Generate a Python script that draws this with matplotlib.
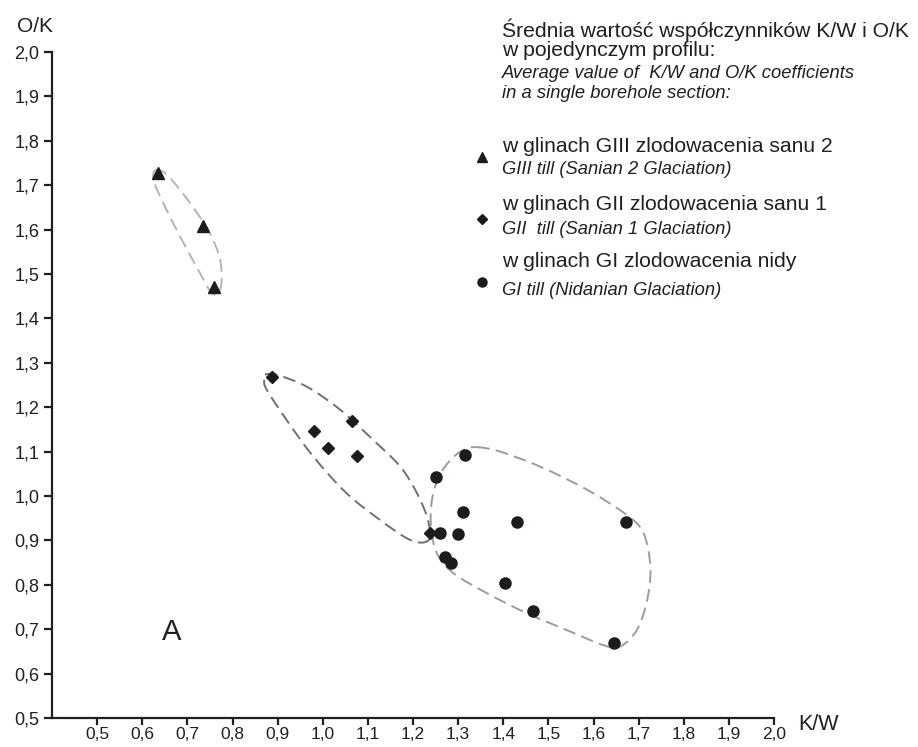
import numpy as np
import matplotlib
matplotlib.use("Agg")
import matplotlib.pyplot as plt
from matplotlib.path import Path
from matplotlib.patches import PathPatch
from matplotlib.lines import Line2D

plt.rcParams['font.family'] = ['Liberation Sans', 'DejaVu Sans']

# ---- data ----
g3_kw = [0.634, 0.734, 0.758]
g3_ok = [1.728, 1.608, 1.470]

g2_kw = [0.887, 1.065, 0.981, 1.011, 1.076, 1.238]
g2_ok = [1.269, 1.169, 1.146, 1.109, 1.089, 0.917]

g1_kw = [1.316, 1.251, 1.310, 1.430, 1.671, 1.260, 1.300, 1.272, 1.285, 1.403, 1.467, 1.645]
g1_ok = [1.093, 1.043, 0.965, 0.941, 0.941, 0.916, 0.914, 0.862, 0.848, 0.804, 0.741, 0.670]

# outlines (envelopes) of groups
hull3_kw = [0.628, 0.651, 0.684, 0.717, 0.750, 0.771, 0.776, 0.771, 0.754, 0.728, 0.684, 0.647, 0.626]
hull3_ok = [1.733, 1.727, 1.689, 1.644, 1.592, 1.539, 1.494, 1.460, 1.457, 1.502, 1.584, 1.659, 1.708]

hull2_kw = [0.872, 0.898, 0.965, 1.039, 1.112, 1.172, 1.209, 1.231, 1.238, 1.220, 1.186, 1.127,
            1.053, 0.979, 0.920, 0.876, 0.870]
hull2_ok = [1.273, 1.273, 1.246, 1.194, 1.126, 1.066, 1.006, 0.953, 0.908, 0.895, 0.905, 0.946,
            1.006, 1.089, 1.171, 1.239, 1.261]

hull1_kw = [1.342, 1.393, 1.482, 1.586, 1.674, 1.711, 1.726, 1.719, 1.696, 1.659, 1.622, 1.541,
            1.452, 1.364, 1.290, 1.253, 1.240, 1.242, 1.257, 1.283, 1.312]
hull1_ok = [1.110, 1.100, 1.066, 1.014, 0.957, 0.916, 0.841, 0.766, 0.698, 0.661, 0.664, 0.698,
            0.736, 0.781, 0.826, 0.871, 0.931, 0.991, 1.043, 1.081, 1.104]

xticks = [0.5, 0.6, 0.7, 0.8, 0.9, 1.0, 1.1, 1.2, 1.3, 1.4, 1.5, 1.6, 1.7, 1.8, 1.9, 2.0]
yticks = [0.5, 0.6, 0.7, 0.8, 0.9, 1.0, 1.1, 1.2, 1.3, 1.4, 1.5, 1.6, 1.7, 1.8, 1.9, 2.0]


def closed_smooth_path(xs, ys):
    pts = np.column_stack([xs, ys])
    n = len(pts)
    verts = [pts[0]]
    codes = [Path.MOVETO]
    for i in range(n):
        p0 = pts[(i - 1) % n]
        p1 = pts[i]
        p2 = pts[(i + 1) % n]
        p3 = pts[(i + 2) % n]
        c1 = p1 + (p2 - p0) / 6.0
        c2 = p2 - (p3 - p1) / 6.0
        verts += [c1, c2, p2]
        codes += [Path.CURVE4] * 3
    return Path(np.array(verts), codes)


W, H = 918, 747
fig = plt.figure(figsize=(W / 100, H / 100), dpi=100)
ax = fig.add_axes([52 / W, 1 - 718 / H, 722 / W, 666 / H])
ax.set_xlim(0.4, 2.0)
ax.set_ylim(0.5, 2.0)

for s in ['top', 'right']:
    ax.spines[s].set_visible(False)
for s in ['left', 'bottom']:
    ax.spines[s].set_linewidth(1.6)
    ax.spines[s].set_color('#231f20')

ax.set_xticks(xticks)
ax.set_yticks(yticks)
ax.set_xticklabels([f"{v:.1f}".replace('.', ',') for v in xticks])
ax.set_yticklabels([f"{v:.1f}".replace('.', ',') for v in yticks])
ax.tick_params(axis='y', direction='out', width=1.6, length=6, colors='#231f20',
               labelsize=13, pad=3)
ax.tick_params(axis='x', direction='out', width=1.6, length=5, colors='#231f20',
               labelsize=12.5, pad=1.2)

# envelopes
for hx, hy, col in [(hull3_kw, hull3_ok, '#b5b5b5'),
                    (hull2_kw, hull2_ok, '#707070'),
                    (hull1_kw, hull1_ok, '#9c9c9c')]:
    patch = PathPatch(closed_smooth_path(hx, hy), facecolor='none', edgecolor=col,
                      lw=1.4, linestyle=(0, (6.5, 3.3)), zorder=2)
    ax.add_patch(patch)

mk = '#1e1b1c'
ax.plot(g3_kw, g3_ok, linestyle='none', marker='^', ms=9, color=mk, zorder=3)
ax.plot(g2_kw, g2_ok, linestyle='none', marker='D', ms=6.5, color=mk, zorder=3)
ax.plot(g1_kw, g1_ok, linestyle='none', marker='o', ms=8, color=mk, zorder=3)

ax.text(0.666, 0.694, 'A', fontsize=21, ha='center', va='center', color='#231f20')

# axis names
fig.text(35 / W, 1 - 26 / H, 'O/K', fontsize=15, ha='center', va='center', color='#231f20')
fig.text(818 / W, 1 - 725 / H, 'K/W', fontsize=15.5, ha='center', va='center', color='#231f20')

# legend block
tx = 502 / W
def fy(y):
    return 1 - y / H

FS_PL = 15.2
FS_EN = 13.2
fig.text(tx, fy(30), 'Średnia wartość współczynników K/W i O/K', fontsize=FS_PL,
         va='center', ha='left', color='#231f20')
fig.text(tx, fy(50), 'w pojedynczym profilu:', fontsize=FS_PL, va='center', ha='left', color='#231f20')
fig.text(tx, fy(74), 'Average value of  K/W and O/K coefficients', fontsize=FS_EN, style='italic',
         va='center', ha='left', color='#231f20')
fig.text(tx, fy(93), 'in a single borehole section:', fontsize=FS_EN, style='italic',
         va='center', ha='left', color='#231f20')

entries = [('^', 7, 'w glinach GIII zlodowacenia sanu 2', 'GIII till (Sanian 2 Glaciation)', 146, 170, 157),
           ('D', 5.5, 'w glinach GII zlodowacenia sanu 1', 'GII  till (Sanian 1 Glaciation)', 204, 229, 219),
           ('o', 6.5, 'w glinach GI zlodowacenia nidy', 'GI till (Nidanian Glaciation)', 262, 291, 282)]
for m, s, t1, t2, y1, y2, ym in entries:
    fig.text(tx, fy(y1), t1, fontsize=FS_PL, va='center', ha='left', color='#231f20')
    fig.text(tx, fy(y2), t2, fontsize=FS_EN, style='italic', va='center', ha='left', color='#231f20')
    fig.add_artist(Line2D([482 / W], [fy(ym)], marker=m, ms=s, color=mk, linestyle='none',
                          transform=fig.transFigure))

fig.savefig('out.png', dpi=100)
